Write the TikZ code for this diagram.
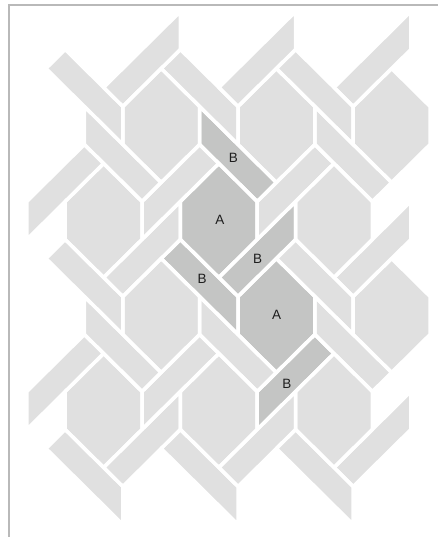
\documentclass[tikz,border=0pt]{standalone}
\usepackage{fontspec}
\setmainfont{Liberation Sans}
\definecolor{tilelight}{RGB}{224,224,224}
\definecolor{tiledark}{RGB}{196,197,196}
\definecolor{framegray}{RGB}{185,185,185}
\definecolor{labelink}{RGB}{30,30,30}

% shapes in unit frame (y pointing down), centred on a hexagon centre
\newcommand\hexat[3]{\path[#3,shift={(#1,#2)}] (1,-0.5) -- (0,-1.5) -- (-1,-0.5) -- (-1,0.5) -- (0,1.5) -- (1,0.5) -- cycle;}
\newcommand\rebarat[3]{\path[#3,shift={(#1,#2)}] (1,-0.5) -- (3,1.5) -- (2.5,2) -- (1,0.5) -- cycle;}
\newcommand\lebarat[3]{\path[#3,shift={(#1,#2)}] (-1,0.5) -- (-3,-1.5) -- (-2.5,-2) -- (-1,-0.5) -- cycle;}
\newcommand\robarat[3]{\path[#3,shift={(#1,#2)}] (1,0.5) -- (3,-1.5) -- (2.5,-2) -- (1,-0.5) -- cycle;}
\newcommand\lobarat[3]{\path[#3,shift={(#1,#2)}] (-1,-0.5) -- (-3,1.5) -- (-2.5,2) -- (-1,0.5) -- cycle;}

% #1 = style of light tiles, #2 = style of dark tiles
\newcommand\alltiles[2]{%
  \foreach \cx/\cy in {-1.5/-2.5,1.5/-2.5,4.5/-2.5,-3/0,3/0,-1.5/2.5,4.5/2.5,-3/5,0/5,3/5}{\hexat{\cx}{\cy}{#1}}
  \foreach \cx/\cy in {0/0,1.5/2.5}{\hexat{\cx}{\cy}{#2}}
  \foreach \cx/\cy in {-4.5/-2.5,1.5/-2.5,-4.5/2.5,-1.5/2.5,1.5/2.5}{\rebarat{\cx}{\cy}{#1}}
  \rebarat{-1.5}{-2.5}{#2}
  \foreach \cx/\cy in {-1.5/-2.5,1.5/-2.5,4.5/-2.5,-1.5/2.5,4.5/2.5,-1.5/7.5,1.5/7.5,4.5/7.5}{\lebarat{\cx}{\cy}{#1}}
  \lebarat{1.5}{2.5}{#2}
  \foreach \cx/\cy in {-6/0,-3/0,0/0,-6/5,-3/5}{\robarat{\cx}{\cy}{#1}}
  \robarat{0}{5}{#2}
  \foreach \cx/\cy in {0/-5,3/-5,6/-5,0/0,6/0,0/5,3/5,6/5}{\lobarat{\cx}{\cy}{#1}}
  \lobarat{3}{0}{#2}
}

\tikzset{
  lightfill/.style={fill=tilelight},
  darkfill/.style={fill=tiledark},
  grout/.style={draw=white,line width=3.5pt,line join=round},
  framerule/.style={draw=framegray,line width=1.2pt},
  tilelabel/.style={text=labelink,font=\fontsize{13.5}{14}\selectfont,inner sep=0pt}
}

\begin{document}
\begin{tikzpicture}[x=1pt,y=-1pt]
\useasboundingbox (0,0) rectangle (437,537);
\draw[framerule] (9,537.5) -- (9,5) -- (437.5,5);
\begin{scope}[shift={(218.8pt,-220.5pt)}]
\begin{scope}[x=38.4pt,y=-38pt]
  \alltiles{lightfill}{darkfill}
  \alltiles{grout}{grout}
\end{scope}
\end{scope}
\node[tilelabel] (b1) at (233.3,157.8) {B};
\node[tilelabel] (a1) at (219.8,219.5) {A};
\node[tilelabel] (b2) at (257.5,258.7) {B};
\node[tilelabel] (b3) at (202.2,278.7) {B};
\node[tilelabel] (a2) at (276.7,314.5) {A};
\node[tilelabel] (b4) at (286.8,383.8) {B};
\end{tikzpicture}
\end{document}
